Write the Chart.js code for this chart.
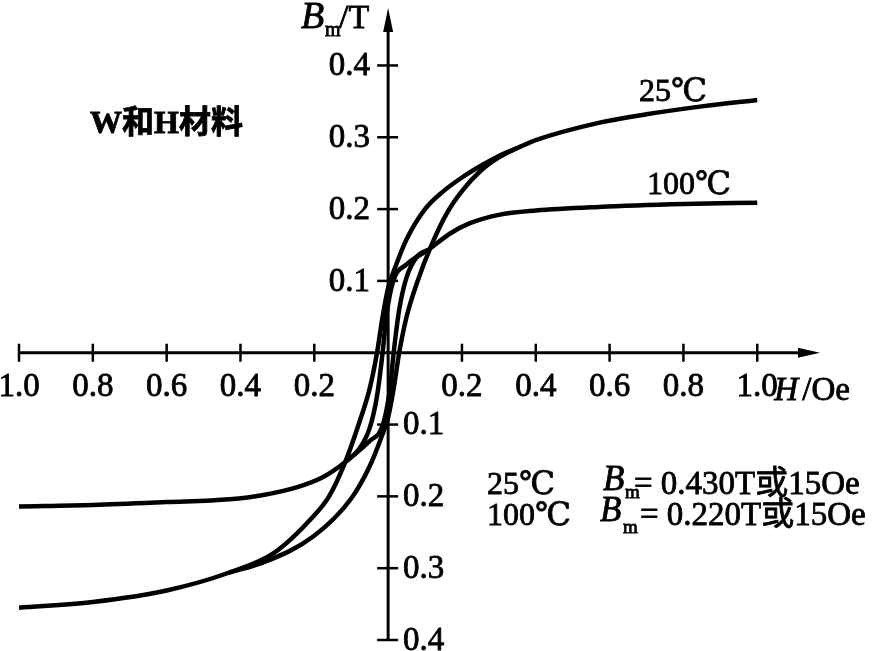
<!DOCTYPE html>
<html><head><meta charset="utf-8">
<script src="https://cdn.jsdelivr.net/npm/chart.js@4.4.0/dist/chart.umd.min.js"></script>
<style>html,body{margin:0;padding:0;background:#fff;}#wrap{width:876px;height:651px;position:relative;}</style>
</head><body><div id="wrap"><canvas id="c"></canvas></div>
<script>
// Tick values and labels (axes show absolute values on both sides)
const xTicks = [-1.0,-0.8,-0.6,-0.4,-0.2,0.2,0.4,0.6,0.8,1.0];
const xTickLabels = ['1.0','0.8','0.6','0.4','0.2','0.2','0.4','0.6','0.8','1.0'];
const yTicks = [-0.4,-0.3,-0.2,-0.1,0.1,0.2,0.3,0.4];
const yTickLabels = ['0.4','0.3','0.2','0.1','0.1','0.2','0.3','0.4'];

// 25 °C loop: descending branch (full) and ascending branch (open part of loop)
const h25Desc = [-1.0,-0.8,-0.6,-0.43,-0.31,-0.203,-0.16,-0.116,-0.08,-0.05,-0.03,-0.015,0.0,0.02,0.05,0.1,0.15,0.2,0.257,0.3,0.35,0.4,0.57,0.7,0.85,1.0];
const b25Desc = [-0.355,-0.347,-0.331,-0.306,-0.279,-0.228,-0.200,-0.152,-0.100,-0.050,0.0,0.050,0.090,0.120,0.158,0.200,0.225,0.244,0.262,0.274,0.285,0.296,0.320,0.332,0.343,0.352];
const h25Asc = [-0.43,-0.338,-0.203,-0.1,-0.05,-0.02,0.0,0.015,0.03,0.05,0.08,0.116,0.16,0.2,0.25,0.3,0.35];
const b25Asc = [-0.306,-0.292,-0.256,-0.203,-0.158,-0.120,-0.090,-0.050,0.0,0.050,0.100,0.148,0.195,0.225,0.253,0.272,0.285];

// 100 °C loop
const h100Desc = [-1.0,-0.8,-0.6,-0.43,-0.338,-0.246,-0.18,-0.116,-0.08,-0.05,-0.03,-0.015,-0.005,0.014,0.05,0.108,0.168,0.22,0.3,0.4,0.57,0.8,1.0];
const b100Desc = [-0.214,-0.212,-0.208,-0.204,-0.198,-0.187,-0.174,-0.152,-0.135,-0.105,-0.060,0.0,0.050,0.100,0.123,0.143,0.166,0.180,0.192,0.198,0.203,0.207,0.209];
const h100Asc = [-0.116,-0.05,-0.014,0.005,0.015,0.03,0.05,0.08,0.108];
const b100Asc = [-0.152,-0.123,-0.100,-0.050,0.0,0.060,0.105,0.135,0.143];

const pts = (hs, bs) => hs.map((h, i) => ({x: h, y: bs[i]}));
const SERIF = "'Liberation Serif','DejaVu Serif','Noto Sans CJK SC',serif";

function txt(ctx, s, x, y, font, align, baseline) {
  ctx.save();
  ctx.font = font;
  ctx.textAlign = align || 'left';
  ctx.textBaseline = baseline || 'alphabetic';
  ctx.fillStyle = '#000';
  ctx.strokeStyle = '#000';
  ctx.lineWidth = 0.8;
  ctx.fillText(s, x, y);
  ctx.strokeText(s, x, y);
  ctx.restore();
}

const axesPlugin = {
  id: 'centerAxes',
  beforeDatasetsDraw(chart) {
    const ctx = chart.ctx, xs = chart.scales.x, ys = chart.scales.y;
    const x0 = xs.getPixelForValue(0), y0 = ys.getPixelForValue(0);
    const xL = xs.getPixelForValue(xs.min), xR = xs.getPixelForValue(xs.max);
    const yB = ys.getPixelForValue(ys.min), yT = ys.getPixelForValue(ys.max);
    ctx.save();
    ctx.strokeStyle = '#000'; ctx.fillStyle = '#000'; ctx.lineWidth = 3;
    // x axis
    ctx.beginPath(); ctx.moveTo(xL, y0); ctx.lineTo(xR - 10, y0); ctx.stroke();
    ctx.beginPath(); ctx.moveTo(xR, y0); ctx.lineTo(xR - 22, y0 - 5); ctx.lineTo(xR - 22, y0 + 5); ctx.closePath(); ctx.fill();
    // y axis
    ctx.beginPath(); ctx.moveTo(x0, yB); ctx.lineTo(x0, yT + 10); ctx.stroke();
    ctx.beginPath(); ctx.moveTo(x0, yT); ctx.lineTo(x0 - 5, yT + 24); ctx.lineTo(x0 + 5, yT + 24); ctx.closePath(); ctx.fill();
    // x ticks + labels
    const xt = (xs.ticks && xs.ticks.length) ? xs.ticks.map(t => t.value) : xTicks;
    xt.forEach(v => {
      const i = xTicks.findIndex(t => Math.abs(t - v) < 1e-6);
      if (i < 0) return;
      const px = xs.getPixelForValue(v);
      ctx.lineWidth = 2.5;
      ctx.beginPath(); ctx.moveTo(px, y0 - 9); ctx.lineTo(px, y0 + 9); ctx.stroke();
      txt(ctx, xTickLabels[i], px, y0 + 35, '33px ' + SERIF, 'center', 'middle');
    });
    // y ticks + labels
    const yt = (ys.ticks && ys.ticks.length) ? ys.ticks.map(t => t.value) : yTicks;
    yt.forEach(v => {
      const i = yTicks.findIndex(t => Math.abs(t - v) < 1e-6);
      if (i < 0) return;
      const py = ys.getPixelForValue(v);
      ctx.lineWidth = 2.5;
      ctx.beginPath(); ctx.moveTo(x0 - 11, py); ctx.lineTo(x0 + 10, py); ctx.stroke();
      if (v > 0) txt(ctx, yTickLabels[i], x0 - 18, py + 1, '33px ' + SERIF, 'right', 'middle');
      else txt(ctx, yTickLabels[i], x0 + 15, py + 1, '33px ' + SERIF, 'left', 'middle');
    });
    // axis titles
    txt(ctx, 'B', x0 - 87, 28, 'italic 38px ' + SERIF);
    txt(ctx, 'm', x0 - 63, 36, '20px ' + SERIF);
    txt(ctx, '/T', x0 - 49, 28, '34px ' + SERIF);
    const xr = xs.getPixelForValue(1.0);
    txt(ctx, 'H', xr + 17, y0 + 47, 'italic 33px ' + SERIF);
    txt(ctx, '/Oe', xr + 45, y0 + 47, '33px ' + SERIF);
    ctx.restore();
  },
  afterDatasetsDraw(chart) {
    const ctx = chart.ctx;
    txt(ctx, 'W和H材料', 90, 133, 'bold 32px ' + SERIF);
    txt(ctx, '25℃', 639, 101, '32px ' + SERIF);
    txt(ctx, '100℃', 647, 194, '32px ' + SERIF);
    // bottom-right annotation
    txt(ctx, '25℃', 487, 494, '32px ' + SERIF);
    txt(ctx, 'B', 603, 490, 'italic 35px ' + SERIF);
    txt(ctx, 'm', 625, 498, '19px ' + SERIF);
    txt(ctx, '= 0.430T或15Oe', 634, 494, '33px ' + SERIF);
    txt(ctx, '100℃', 487, 525, '32px ' + SERIF);
    txt(ctx, 'B', 600, 521, 'italic 35px ' + SERIF);
    txt(ctx, 'm', 623, 533, '19px ' + SERIF);
    txt(ctx, '= 0.220T或15Oe', 640, 525, '33px ' + SERIF);
  }
};

const lineStyle = {
  showLine: true, borderColor: '#000', backgroundColor: '#000', borderWidth: 4.5,
  pointRadius: 0, pointHoverRadius: 0, cubicInterpolationMode: 'monotone', fill: false, clip: false
};

new Chart(document.getElementById('c'), {
  type: 'scatter',
  data: {
    datasets: [
      Object.assign({label: '25℃ descending', data: pts(h25Desc, b25Desc)}, lineStyle),
      Object.assign({label: '25℃ ascending', data: pts(h25Asc, b25Asc)}, lineStyle),
      Object.assign({label: '100℃ descending', data: pts(h100Desc, b100Desc)}, lineStyle),
      Object.assign({label: '100℃ ascending', data: pts(h100Asc, b100Asc)}, lineStyle)
    ]
  },
  options: {
    responsive: true, maintainAspectRatio: false, animation: false,
    layout: {padding: {left: 19, right: 56, top: 8, bottom: 11}},
    plugins: {legend: {display: false}, tooltip: {enabled: false}},
    scales: {
      x: {type: 'linear', min: -1.0, max: 1.17, display: false,
          afterBuildTicks: s => { s.ticks = xTicks.map(v => ({value: v})); }},
      y: {type: 'linear', min: -0.4, max: 0.48, display: false,
          afterBuildTicks: s => { s.ticks = yTicks.map(v => ({value: v})); }}
    }
  },
  plugins: [axesPlugin]
});
</script>
</body></html>
